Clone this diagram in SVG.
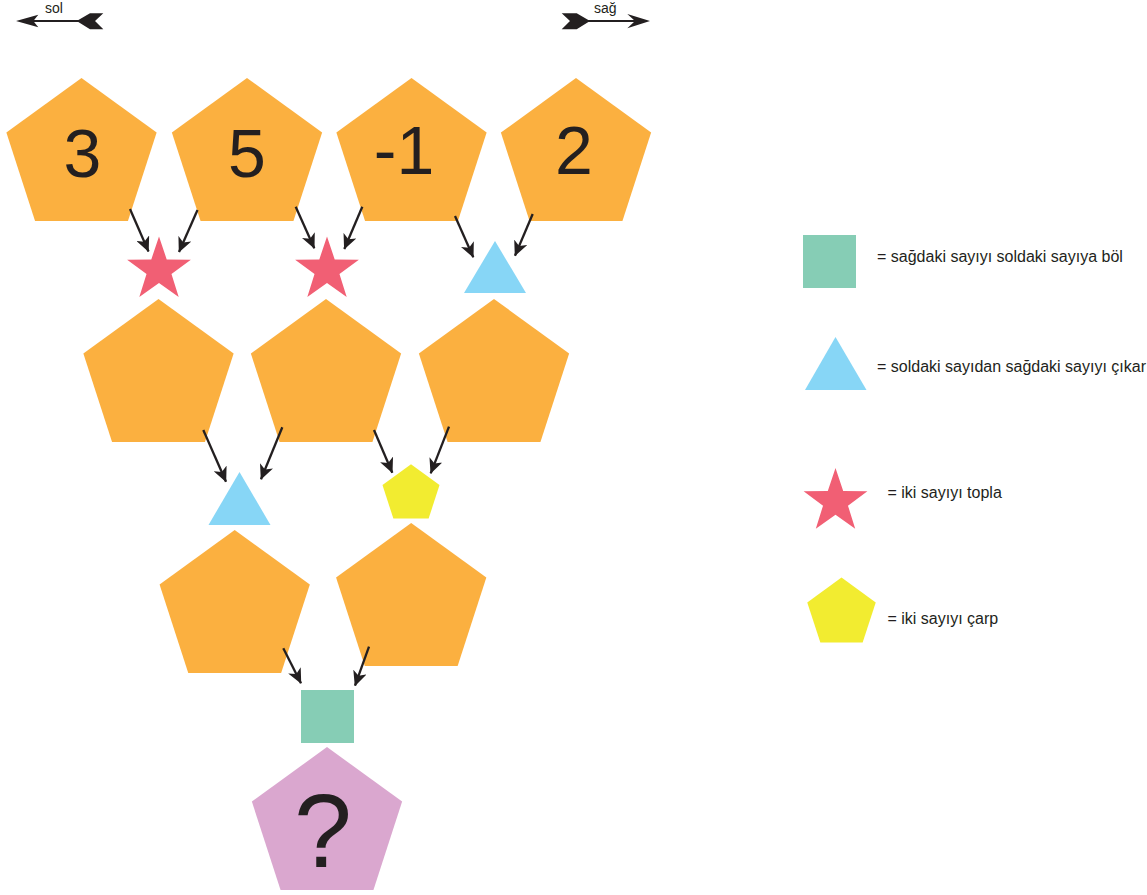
<svg xmlns="http://www.w3.org/2000/svg" width="1147" height="895" viewBox="0 0 1147 895">
<style>
.orange{fill:#FBB040}
.star{fill:#F15F74}
.tri{fill:#87D6F6}
.sq{fill:#86CDB5}
.yel{fill:#F2EC30}
.pur{fill:#DAA7CF}
.num{font-family:"Liberation Sans",Arial,sans-serif;font-size:68px;fill:#231F20;text-anchor:middle}
.lbl{font-family:"Liberation Sans",Arial,sans-serif;font-size:16px;fill:#231F20}
.dir{font-family:"Liberation Sans",Arial,sans-serif;font-size:14px;fill:#231F20}
.conn line{stroke:#231F20;stroke-width:2.3;marker-end:url(#ah)}
</style>
<defs>
<marker id="ah" markerUnits="userSpaceOnUse" markerWidth="15" markerHeight="14" refX="14.5" refY="7" orient="auto" viewBox="0 0 15 14">
<path d="M0,0 L15,7 L0,14 L4,7 Z" fill="#231F20"/>
</marker>
<path id="pent" d="M0,-79 L75.14,-24.41 L46.44,63.91 L-46.44,63.91 L-75.14,-24.41 Z"/>
<path id="star" d="M0,-33.5 L7.7,-10.6 L31.86,-10.35 L12.47,4.05 L19.69,27.1 L0,13.1 L-19.69,27.1 L-12.47,4.05 L-31.86,-10.35 L-7.7,-10.6 Z"/>
</defs>

<g id="dir-sol">
<line x1="30" y1="21" x2="80" y2="21" stroke="#231F20" stroke-width="2"/>
<polygon points="16,21 38.3,14.7 33.3,21 38.3,27.3" fill="#231F20"/>
<polygon points="76.7,21 90,13.3 103.3,13.3 95,21 103.3,29.3 90,29.3" fill="#231F20"/>
<text class="dir" x="45" y="13">sol</text>
</g>
<g id="dir-sag">
<line x1="585" y1="21" x2="640" y2="21" stroke="#231F20" stroke-width="2"/>
<polygon points="561.7,13.3 576.7,13.3 590,21 576.7,29.3 561.7,29.3 570,21" fill="#231F20"/>
<polygon points="650,21 627.3,14 635,21 627.3,28.3" fill="#231F20"/>
<text class="dir" x="594" y="13">sağ</text>
</g>

<g id="p-3"><use href="#pent" class="orange" x="81.5" y="157"/><text class="num" x="82.5" y="177">3</text></g>
<g id="p-5"><use href="#pent" class="orange" x="247" y="157"/><text class="num" x="247" y="177">5</text></g>
<g id="p-m1"><use href="#pent" class="orange" x="411.5" y="157"/><text class="num" x="404" y="174">-1</text></g>
<g id="p-2"><use href="#pent" class="orange" x="576" y="157"/><text class="num" x="574" y="174">2</text></g>

<g id="op-star1"><use href="#star" class="star" x="159" y="270"/></g>
<g id="op-star2"><use href="#star" class="star" x="327" y="270"/></g>
<g id="op-tri1"><polygon class="tri" points="495,241 526,293 464,293"/></g>

<g id="p-r2a"><use href="#pent" class="orange" x="158.5" y="378"/></g>
<g id="p-r2b"><use href="#pent" class="orange" x="326" y="378"/></g>
<g id="p-r2c"><use href="#pent" class="orange" x="494" y="378"/></g>

<g id="op-tri2"><polygon class="tri" points="239.5,472 270.5,525 208.5,525"/></g>
<g id="op-yel"><polygon class="yel" points="411,464.3 439.53,485.03 428.63,518.57 393.37,518.57 382.47,485.03"/></g>

<g id="p-r3a"><use href="#pent" class="orange" x="234.7" y="609"/></g>
<g id="p-r3b"><use href="#pent" class="orange" x="411.2" y="602"/></g>

<g id="op-sq"><rect class="sq" x="301" y="690" width="53" height="53"/></g>

<g id="p-result"><use href="#pent" class="pur" x="327" y="826"/><text class="num" x="323" y="867" style="font-size:104px">?</text></g>

<g id="connectors" class="conn">
<line x1="130" y1="209" x2="148.5" y2="251.5"/>
<line x1="197.5" y1="210" x2="179" y2="252"/>
<line x1="295.7" y1="206.7" x2="314.3" y2="248.3"/>
<line x1="362.3" y1="206.7" x2="344.3" y2="249"/>
<line x1="455" y1="216" x2="473.3" y2="257.3"/>
<line x1="532.7" y1="214" x2="515" y2="255.7"/>
<line x1="203.3" y1="430" x2="226" y2="481.7"/>
<line x1="282.3" y1="427.3" x2="261" y2="479.3"/>
<line x1="374" y1="430" x2="392.3" y2="472.7"/>
<line x1="449" y1="426.7" x2="430.7" y2="473.3"/>
<line x1="283.3" y1="648.3" x2="301" y2="683.3"/>
<line x1="369" y1="646.7" x2="355" y2="685.7"/>
</g>

<g id="legend-sq"><rect class="sq" x="803" y="235" width="53" height="53"/><text class="lbl" x="877" y="262">= sağdaki sayıyı soldaki sayıya böl</text></g>
<g id="legend-tri"><polygon class="tri" points="835.5,337 866.5,390 805,390"/><text class="lbl" x="877" y="372">= soldaki sayıdan sağdaki sayıyı çıkar</text></g>
<g id="legend-star"><use href="#star" class="star" x="835.5" y="501.6"/><text class="lbl" x="887.5" y="498">= iki sayıyı topla</text></g>
<g id="legend-yel"><polygon class="yel" points="841.5,577.5 875.74,602.38 862.66,642.62 820.34,642.62 807.26,602.38"/><text class="lbl" x="887.5" y="624">= iki sayıyı çarp</text></g>
</svg>
